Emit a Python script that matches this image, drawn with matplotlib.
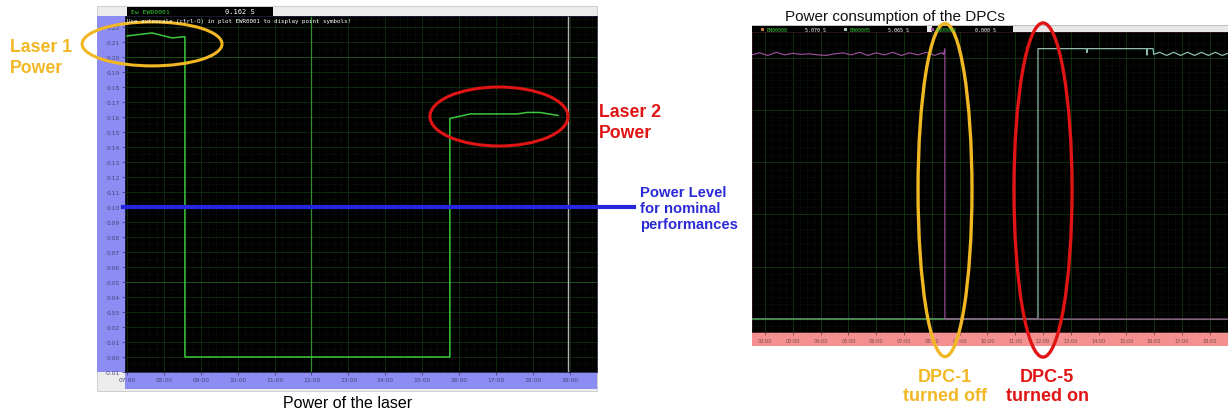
import numpy as np
import matplotlib
matplotlib.use('Agg')
import matplotlib.pyplot as plt
from matplotlib.patches import Rectangle, Ellipse
from matplotlib.ticker import MultipleLocator

# ---- data: left screenshot (laser power, hours of day) ----
laser_t = [7.0, 7.68, 8.22, 8.57, 8.57, 15.75, 15.75, 16.3, 17.57, 17.84, 18.19, 18.68]
laser_p = [0.214, 0.216, 0.2127, 0.2135, 0.0, 0.0, 0.159, 0.162, 0.162, 0.163, 0.163, 0.161]
nominal_level = 0.10
cursor_t = 18.95
left_xticks = [7, 8, 9, 10, 11, 12, 13, 14, 15, 16, 17, 18, 19]
left_yticks = [-0.01, 0.0, 0.01, 0.02, 0.03, 0.04, 0.05, 0.06, 0.07, 0.08, 0.09, 0.10,
               0.11, 0.12, 0.13, 0.14, 0.15, 0.16, 0.17, 0.18, 0.19, 0.20, 0.21, 0.22]

# ---- data: right screenshot (DPC power consumption) ----
dpc1_t = [1.53, 1.8, 2.1, 2.4, 2.7, 3.0, 3.3, 3.6, 3.9, 4.2, 4.5, 4.8, 5.1, 5.4, 5.7,
          6.0, 6.3, 6.6, 6.9, 7.2, 7.5, 7.8, 8.1, 8.35, 8.42, 8.47, 8.47, 18.65]
dpc1_p = [5.05, 5.09, 5.04, 5.10, 5.05, 5.08, 5.06, 5.07, 5.05, 5.04, 5.07, 5.09, 5.05, 5.10, 5.04,
          5.09, 5.05, 5.10, 5.04, 5.09, 5.05, 5.10, 5.04, 5.09, 5.06, 5.17, 0.0, 0.0]
dpc5_t = [1.53, 11.82, 11.82, 13.58, 13.58, 13.58, 15.74, 15.74, 15.74, 15.96, 15.98,
          16.2, 16.45, 16.7, 16.95, 17.2, 17.45, 17.7, 17.95, 18.2, 18.45, 18.65]
dpc5_p = [0.0, 0.0, 5.17, 5.17, 5.10, 5.17, 5.17, 5.05, 5.17, 5.17, 5.06,
          5.10, 5.04, 5.10, 5.04, 5.10, 5.04, 5.10, 5.04, 5.10, 5.04, 5.08]
en4_t = [1.53, 18.65]
en4_p = [0.0, 0.0]
right_xticks = [2, 3, 4, 5, 6, 7, 8, 9, 10, 11, 12, 13, 14, 15, 16, 17, 18]

W, H = 1228, 410
fig = plt.figure(figsize=(W / 100, H / 100), dpi=100)
fig.patch.set_facecolor('white')


def frac(x0, y0, x1, y1):
    return [x0 / W, 1 - y1 / H, (x1 - x0) / W, (y1 - y0) / H]


def panel(x0, y0, x1, y1, color, ec='none'):
    fig.patches.append(Rectangle((x0 / W, 1 - y1 / H), (x1 - x0) / W, (y1 - y0) / H,
                                 transform=fig.transFigure, fc=color, ec=ec, lw=0.6, zorder=-1))


def ftext(x, y, s, **kw):
    fig.text(x / W, 1 - y / H, s, **kw)


SANS = 'Liberation Sans'
GOLD = '#f2b824'
RED = '#e01414'

# ---------------- left window ----------------
panel(97, 7, 597, 392, '#ececec', ec='#c8c8c8')
panel(97, 17, 125, 373, '#8c8cf2')
panel(125, 373, 597, 390, '#8c8cf2')
panel(127, 8, 273, 17, 'black')
ftext(131, 12.5, 'Ew EWR0001', color='#3ccc3c', fontsize=4.6, va='center', family='DejaVu Sans Mono')
ftext(225, 12.5, '0.162 S', color='white', fontsize=5, va='center', family='DejaVu Sans Mono')

ax1 = fig.add_axes(frac(125, 17, 597, 373))
ax1.set_facecolor('black')
ax1.set_xlim(6.946, 19.737)
ax1.set_ylim(-0.01, 0.2273)
ax1.xaxis.set_minor_locator(MultipleLocator(0.2))
ax1.yaxis.set_minor_locator(MultipleLocator(0.005))
ax1.grid(which='major', color='#112e11', lw=0.6)
ax1.grid(which='minor', color='#0f240f', lw=0.5, ls=':')
ax1.set_axisbelow(True)
ax1.set_xticks(left_xticks)
ax1.set_xticklabels([f'{h:02d}:00' for h in left_xticks])
ax1.set_yticks(left_yticks)
ax1.set_yticklabels([f'{v:.2f}' for v in left_yticks])
ax1.tick_params(which='major', labelsize=4.3, colors='#44447a', length=2, pad=1.5, width=0.6)
ax1.tick_params(which='minor', length=0)
for sp in ax1.spines.values():
    sp.set_color('#202040')
    sp.set_linewidth(0.6)

for lvl in [0.05, 0.20]:
    ax1.axhline(lvl, color='#1c501c', lw=0.7, zorder=1)
ax1.axvline(12, color='#2f8f2f', lw=0.9, zorder=1)
ax1.axvline(cursor_t, color='#b4b4b4', lw=1.0, zorder=2)
ax1.plot(laser_t, laser_p, color='#3cc83c', lw=1.1, zorder=3)
ax1.axhline(nominal_level, xmin=-0.005, xmax=509 / 472, color='#2626e0', lw=3,
            clip_on=False, zorder=4)

ax1.add_patch(Ellipse((7.68, 0.2087), 3.79, 0.0293, fill=False, ec=GOLD, lw=2.2,
                      clip_on=False, zorder=6))
ax1.add_patch(Ellipse((17.08, 0.1603), 3.74, 0.0393, fill=False, ec=RED, lw=2.2,
                      clip_on=False, zorder=6))

ftext(127, 21, 'Use autoscale (ctrl-O) in plot EWR0001 to display point symbols!',
      color='white', fontsize=4.2, va='center', family='DejaVu Sans Mono')

ftext(10, 52, 'Laser 1', color=GOLD, fontsize=12.7, fontweight='bold', family=SANS, va='baseline')
ftext(10, 73, 'Power', color=GOLD, fontsize=12.7, fontweight='bold', family=SANS, va='baseline')
ftext(599, 117, 'Laser 2', color=RED, fontsize=12.7, fontweight='bold', family=SANS, va='baseline')
ftext(599, 138, 'Power', color=RED, fontsize=12.7, fontweight='bold', family=SANS, va='baseline')
for txt, yb in [('Power Level', 197), ('for nominal', 213), ('performances', 229)]:
    ftext(640, yb, txt, color='#2b2bd6', fontsize=10.6, fontweight='bold', family=SANS, va='baseline')
ftext(348, 408, 'Power of the laser', color='black', fontsize=11.5, family=SANS,
      ha='center', va='baseline')

# ---------------- right window ----------------
ftext(785, 17, 'Power consumption of the DPCs', color='#111111', fontsize=11, family=SANS,
      va='center')
panel(752, 26, 1228, 33, '#e8e8e8', ec='#b8b8b8')
panel(752, 27, 927, 33, 'black')
panel(932, 27, 1013, 33, 'black')
panel(752, 333, 1228, 347, '#f4908f')

header = [(765, '#c87830', 'EN00008', '5.070 S'),
          (848, '#a8d0c8', 'EN00005', '5.065 S'),
          (935, '#a050a0', 'EN00004', '0.000 S')]
for x, c, name, val in header:
    panel(x - 4, 28.5, x - 1, 31.5, c)
    ftext(x + 1, 30, name, color='#3ccc3c', fontsize=3.6, va='center', family='DejaVu Sans Mono')
    ftext(x + 40, 30, val, color='white', fontsize=3.6, va='center', family='DejaVu Sans Mono')

ax2 = fig.add_axes(frac(752, 33, 1228, 333))
ax2.set_facecolor('black')
ax2.set_xlim(1.532, 18.655)
ax2.set_ylim(-0.249, 5.488)
ax2.xaxis.set_minor_locator(MultipleLocator(0.25))
ax2.yaxis.set_minor_locator(MultipleLocator(1 / 7))
ax2.yaxis.set_major_locator(MultipleLocator(1))
ax2.grid(which='major', color='#143614', lw=0.6)
ax2.grid(which='minor', color='#0f240f', lw=0.5, ls=':')
ax2.set_axisbelow(True)
ax2.set_xticks(right_xticks)
ax2.set_xticklabels([f'{h:02d}:00' for h in right_xticks])
ax2.tick_params(axis='x', which='major', labelsize=3.6, colors='#7a4848', length=2,
                pad=2.5, width=0.6)
ax2.tick_params(axis='y', which='both', left=False, labelleft=False)
ax2.tick_params(which='minor', length=0)
for sp in ax2.spines.values():
    sp.set_color('#301818')
    sp.set_linewidth(0.6)

ax2.plot(dpc5_t, dpc5_p, color='#8fbcae', lw=0.9, zorder=3)
ax2.plot(en4_t, en4_p, color='#3c8c3c', lw=0.8, zorder=4)
ax2.plot(dpc1_t, dpc1_p, color='#a452a4', lw=0.8, zorder=5)

ax2.add_patch(Ellipse((8.475, 2.466), 1.94, 6.37, fill=False, ec=GOLD, lw=2.4,
                      clip_on=False, zorder=6))
ax2.add_patch(Ellipse((12.0, 2.466), 2.09, 6.39, fill=False, ec=RED, lw=2.4,
                      clip_on=False, zorder=6))

ftext(945, 382, 'DPC-1', color=GOLD, fontsize=13, fontweight='bold', family=SANS,
      ha='center', va='baseline')
ftext(945, 401, 'turned off', color=GOLD, fontsize=13, fontweight='bold', family=SANS,
      ha='center', va='baseline')
ftext(1047, 382, 'DPC-5', color=RED, fontsize=13, fontweight='bold', family=SANS,
      ha='center', va='baseline')
ftext(1048, 401, 'turned on', color=RED, fontsize=13, fontweight='bold', family=SANS,
      ha='center', va='baseline')

fig.savefig('out.png', dpi=100)
